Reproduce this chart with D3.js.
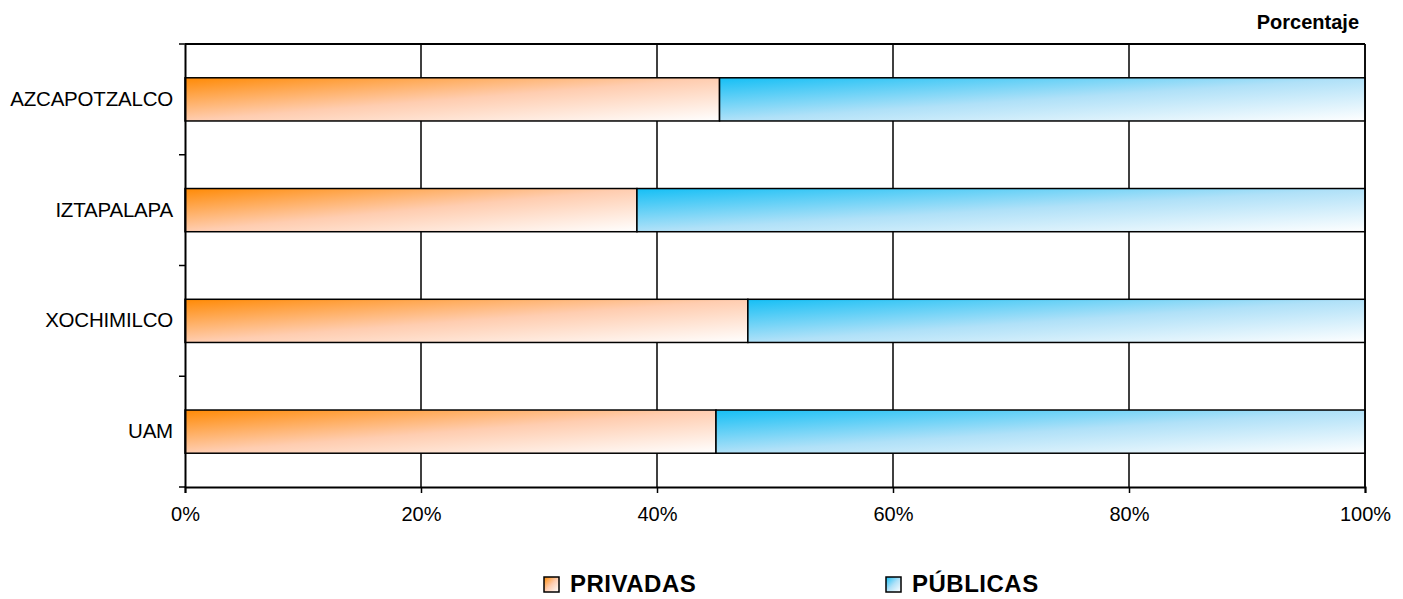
<!DOCTYPE html>
<html>
<head>
<meta charset="utf-8">
<script src="https://cdn.jsdelivr.net/npm/d3@7"></script>
<style>
  html, body { margin: 0; padding: 0; background: #fff; }
  svg { display: block; }
  text { font-family: Arial, "Liberation Sans", sans-serif; fill: #000; }
</style>
</head>
<body>
<svg id="chart" width="1403" height="599"></svg>
<script>
const categories = ["AZCAPOTZALCO", "IZTAPALAPA", "XOCHIMILCO", "UAM"];
const privadas = [45.3, 38.3, 47.7, 45.0];
const publicas = [54.7, 61.7, 52.3, 55.0];
const seriesNames = ["PRIVADAS", "PÚBLICAS"];
const xTicks = [0, 20, 40, 60, 80, 100];
const axisTitle = "Porcentaje";

const svg = d3.select("#chart");
const W = 1403, H = 599;
const m = { left: 185, right: 38, top: 44, bottom: 112 };
const x = d3.scaleLinear().domain([0, 100]).range([m.left, W - m.right]);
const y = d3.scaleBand().domain(categories).range([m.top, H - m.bottom])
  .paddingInner(0.61).paddingOuter(0.305);

const defs = svg.append("defs");
function grad(id, stops) {
  const g = defs.append("linearGradient").attr("id", id)
    .attr("x1", 0).attr("y1", 0).attr("x2", 1).attr("y2", 1);
  stops.forEach(s => g.append("stop").attr("offset", s[0]).attr("stop-color", s[1]));
}
grad("gOrange", [[0, "#ff8a05"], [0.5, "#ffcdb0"], [1, "#ffffff"]]);
grad("gBlue", [[0, "#15bff5"], [0.5, "#b0e1f8"], [1, "#ffffff"]]);

// gridlines
svg.append("g").selectAll("line").data(xTicks.slice(1)).join("line")
  .attr("x1", d => x(d)).attr("x2", d => x(d))
  .attr("y1", m.top).attr("y2", H - m.bottom)
  .attr("stroke", "#000").attr("stroke-width", 1.5);

// top border
svg.append("line").attr("x1", m.left).attr("x2", x(100))
  .attr("y1", m.top).attr("y2", m.top).attr("stroke", "#000").attr("stroke-width", 2);

// bars
const rows = categories.map((c, i) => ({ c, p: privadas[i], u: publicas[i] }));
const bars = svg.append("g");
bars.selectAll("rect.p").data(rows).join("rect").attr("class", "p")
  .attr("x", x(0)).attr("y", d => y(d.c))
  .attr("width", d => x(d.p) - x(0)).attr("height", y.bandwidth())
  .attr("fill", "url(#gOrange)").attr("stroke", "#000").attr("stroke-width", 1.5);
bars.selectAll("rect.u").data(rows).join("rect").attr("class", "u")
  .attr("x", d => x(d.p)).attr("y", d => y(d.c))
  .attr("width", d => x(d.p + d.u) - x(d.p)).attr("height", y.bandwidth())
  .attr("fill", "url(#gBlue)").attr("stroke", "#000").attr("stroke-width", 1.5);

// x axis
const xAxis = svg.append("g").attr("transform", `translate(0,${H - m.bottom})`)
  .call(d3.axisBottom(x).tickValues(xTicks).tickFormat(d => d + "%").tickSize(6).tickPadding(14));
xAxis.select(".domain").attr("stroke", "#000").attr("stroke-width", 2);
xAxis.selectAll(".tick line").attr("stroke", "#000").attr("stroke-width", 1.5);
xAxis.selectAll(".tick text").style("font-size", "20px").style("font-family", "Arial, 'Liberation Sans', sans-serif").attr("fill", "#000");

// y axis
const step = y.step();
const bounds = d3.range(categories.length + 1).map(i => m.top + i * step);
const yAxis = svg.append("g").attr("transform", `translate(${m.left},0)`)
  .call(d3.axisLeft(y).tickSize(0).tickPadding(12));
yAxis.select(".domain").attr("stroke", "#000").attr("stroke-width", 2);
yAxis.selectAll(".tick text").style("font-size", "20.5px").style("letter-spacing", "-0.2px")
  .style("font-family", "Arial, 'Liberation Sans', sans-serif").attr("fill", "#000");
yAxis.selectAll("line.bt").data(bounds).join("line").attr("class", "bt")
  .attr("x1", -6).attr("x2", 0).attr("y1", d => d).attr("y2", d => d)
  .attr("stroke", "#000").attr("stroke-width", 1.5);

// right border
svg.append("line").attr("x1", x(100)).attr("x2", x(100))
  .attr("y1", m.top).attr("y2", H - m.bottom).attr("stroke", "#000").attr("stroke-width", 1.5);

// axis title
svg.append("text").attr("x", 1359).attr("y", 29).attr("text-anchor", "end")
  .style("font-size", "20px").style("font-weight", "bold").text(axisTitle);

// legend
const legX = [544, 886];
const legend = svg.append("g");
seriesNames.forEach((n, i) => {
  legend.append("rect").attr("x", legX[i]).attr("y", 577).attr("width", 15).attr("height", 15)
    .attr("fill", i === 0 ? "url(#gOrange)" : "url(#gBlue)").attr("stroke", "#000").attr("stroke-width", 1.5);
  legend.append("text").attr("x", legX[i] + 26).attr("y", 592)
    .style("font-size", "24px").style("font-weight", "bold").style("letter-spacing", "0.5px").text(n);
});
</script>
</body>
</html>
